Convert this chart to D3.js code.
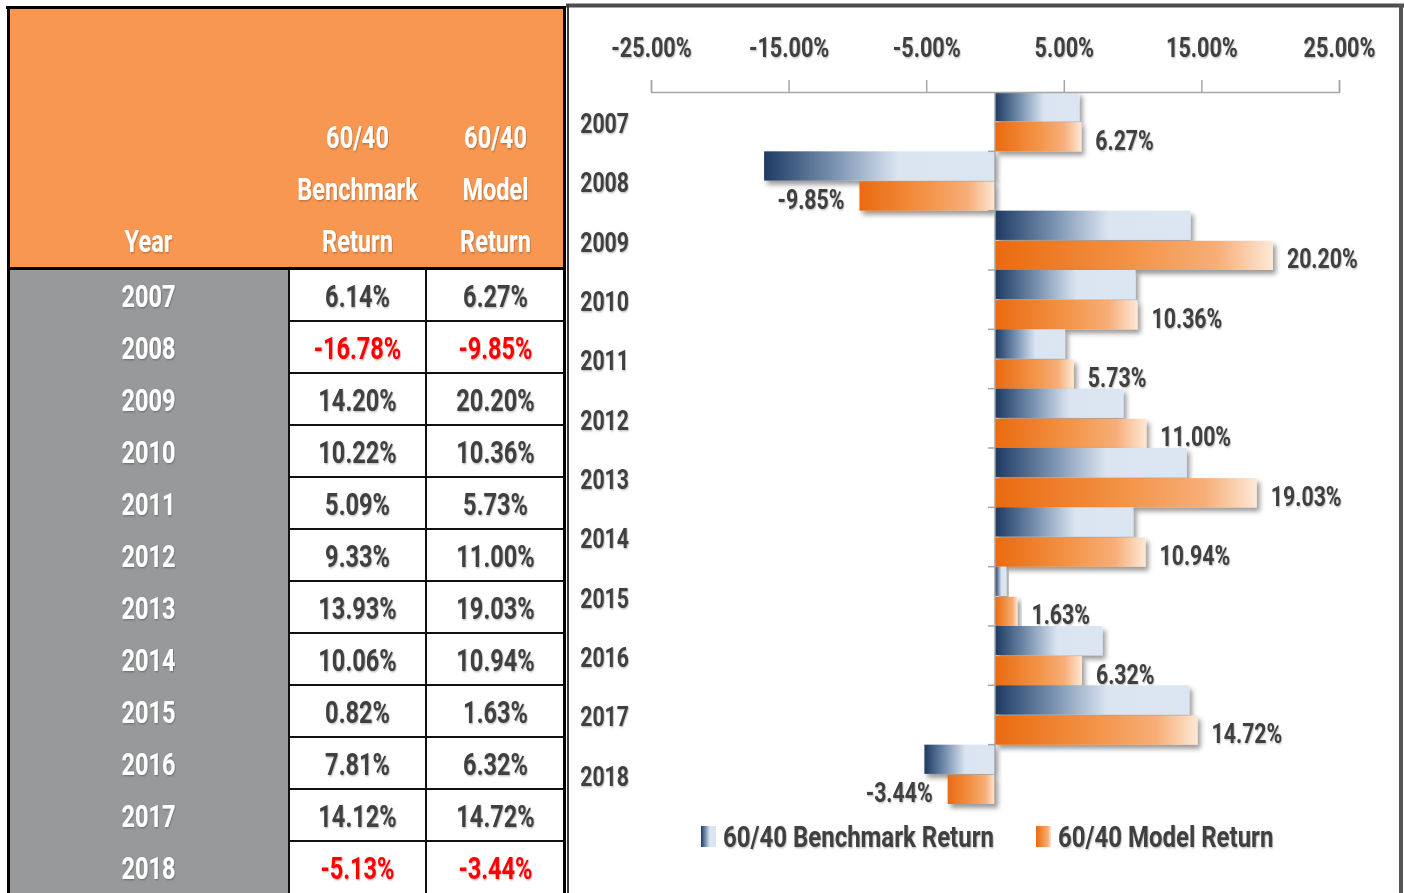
<!DOCTYPE html>
<html>
<head>
    <script src="https://cdnjs.cloudflare.com/ajax/libs/d3/7.8.5/d3.min.js"></script>
    <style>
        body { margin: 0; background: #fff; }
        svg text {
            font-family: Roboto, "Liberation Sans", sans-serif;
            font-weight: bold;
        }
    </style>
</head>
<body>
    <div id="chart"></div>
    <script>
        const years = ["2007", "2008", "2009", "2010", "2011", "2012", "2013", "2014", "2015", "2016", "2017", "2018"];
        const benchmark = [6.14, -16.78, 14.20, 10.22, 5.09, 9.33, 13.93, 10.06, 0.82, 7.81, 14.12, -5.13];
        const model = [6.27, -9.85, 20.20, 10.36, 5.73, 11.00, 19.03, 10.94, 1.63, 6.32, 14.72, -3.44];
        const xTicks = [-25, -15, -5, 5, 15, 25];
        const headerYear = ["Year"];
        const headerBench = ["60/40", "Benchmark", "Return"];
        const headerModel = ["60/40", "Model", "Return"];
        const seriesNames = ["60/40 Benchmark Return", "60/40 Model Return"];

        const width = 1404, height = 893;
        const pct = v => v.toFixed(2) + "%";
        const textColor = "#404040";

        const svg = d3.select("#chart").append("svg")
            .attr("width", width).attr("height", height);

        const defs = svg.append("defs");

        const benchGrad = defs.append("linearGradient").attr("id", "gBench");
        benchGrad.append("stop").attr("offset", "0%").attr("stop-color", "#1d3a62");
        benchGrad.append("stop").attr("offset", "30%").attr("stop-color", "#7891b0");
        benchGrad.append("stop").attr("offset", "58%").attr("stop-color", "#dbe5f1");
        benchGrad.append("stop").attr("offset", "100%").attr("stop-color", "#dce6f2");

        const modelGrad = defs.append("linearGradient").attr("id", "gModel");
        modelGrad.append("stop").attr("offset", "0%").attr("stop-color", "#ea6a10");
        modelGrad.append("stop").attr("offset", "50%").attr("stop-color", "#f39448");
        modelGrad.append("stop").attr("offset", "80%").attr("stop-color", "#f7ae78");
        modelGrad.append("stop").attr("offset", "100%").attr("stop-color", "#fde8d6");

        const barShadow = defs.append("filter").attr("id", "barShadow")
            .attr("x", "-10%").attr("y", "-20%").attr("width", "130%").attr("height", "160%");
        barShadow.append("feDropShadow").attr("dx", 3).attr("dy", 4)
            .attr("stdDeviation", 2.5).attr("flood-color", "#000").attr("flood-opacity", 0.4);

        const textShadow = defs.append("filter").attr("id", "textShadow")
            .attr("x", "-10%").attr("y", "-20%").attr("width", "130%").attr("height", "150%");
        textShadow.append("feDropShadow").attr("dx", 1).attr("dy", 1)
            .attr("stdDeviation", 0.8).attr("flood-color", "#000").attr("flood-opacity", 0.3);

        function label(g, x, y, str, size, fill, anchor, sx) {
            return g.append("text")
                .attr("transform", `translate(${x},${y}) scale(${sx || 0.76},1)`)
                .attr("font-size", size)
                .attr("fill", fill)
                .attr("text-anchor", anchor || "middle")
                .attr("filter", "url(#textShadow)")
                .text(str);
        }

        // ---------- table ----------
        const table = svg.append("g");
        const colYear = [8, 289], colBench = [289, 426], colModel = [426, 565];
        const rowY = d3.scaleBand().domain(years).range([268, 268 + 52 * years.length]);

        table.append("rect").attr("x", 8).attr("y", 8).attr("width", 557).attr("height", 260)
            .attr("fill", "#f79751");
        table.append("rect").attr("x", 8).attr("y", 268).attr("width", 281).attr("height", height - 268)
            .attr("fill", "#98999b");
        table.append("rect").attr("x", 289).attr("y", 268).attr("width", 276).attr("height", height - 268)
            .attr("fill", "#fff");

        const hdrBase = [148, 200, 252];
        headerYear.forEach(t => label(table, (colYear[0] + colYear[1]) / 2, 252, t, 31, "#fff"));
        headerBench.forEach((t, i) => label(table, (colBench[0] + colBench[1]) / 2, hdrBase[i], t, 31, "#fff"));
        headerModel.forEach((t, i) => label(table, (colModel[0] + colModel[1]) / 2, hdrBase[i], t, 31, "#fff"));

        years.forEach((yr, i) => {
            const cy = rowY(yr) + rowY.bandwidth() / 2 + 1;
            label(table, (colYear[0] + colYear[1]) / 2, cy + 12, yr, 31, "#fff");
            label(table, (colBench[0] + colBench[1]) / 2, cy + 12, pct(benchmark[i]), 31,
                benchmark[i] < 0 ? "#ff0000" : textColor);
            label(table, (colModel[0] + colModel[1]) / 2, cy + 12, pct(model[i]), 31,
                model[i] < 0 ? "#ff0000" : textColor);
        });

        // grid lines of the white cells
        table.selectAll("line.row")
            .data(years.slice(1))
            .enter().append("line")
            .attr("x1", 289).attr("x2", 565)
            .attr("y1", d => rowY(d) + 1).attr("y2", d => rowY(d) + 1)
            .attr("stroke", "#111").attr("stroke-width", 2);
        [289, 426].forEach(xv => {
            table.append("line").attr("x1", xv).attr("x2", xv).attr("y1", 268).attr("y2", height)
                .attr("stroke", "#111").attr("stroke-width", 2);
        });
        table.append("line").attr("x1", 6).attr("x2", 566).attr("y1", 7.5).attr("y2", 7.5)
            .attr("stroke", "#000").attr("stroke-width", 3);
        table.append("line").attr("x1", 8.5).attr("x2", 8.5).attr("y1", 6).attr("y2", height)
            .attr("stroke", "#000").attr("stroke-width", 3);
        table.append("line").attr("x1", 8).attr("x2", 566).attr("y1", 268.5).attr("y2", 268.5)
            .attr("stroke", "#000").attr("stroke-width", 3);
        table.append("line").attr("x1", 564.5).attr("x2", 564.5).attr("y1", 6).attr("y2", height)
            .attr("stroke", "#000").attr("stroke-width", 3);

        // ---------- chart ----------
        const chart = svg.append("g");
        chart.append("line").attr("x1", 566).attr("x2", 1404).attr("y1", 5.5).attr("y2", 5.5)
            .attr("stroke", "#4d4d4d").attr("stroke-width", 4);
        chart.append("line").attr("x1", 1401).attr("x2", 1401).attr("y1", 4).attr("y2", height)
            .attr("stroke", "#555").attr("stroke-width", 4);
        chart.append("line").attr("x1", 568).attr("x2", 568).attr("y1", 4).attr("y2", height)
            .attr("stroke", "#3a3a3a").attr("stroke-width", 2);

        const x = d3.scaleLinear().domain([-25, 25]).range([651, 1339]);
        const y = d3.scaleBand().domain(years).range([92, 804]).padding(0);
        const sub = d3.scaleBand().domain(["bench", "model"]).range([0, y.bandwidth()]).paddingInner(0.03);

        const rows = years.map((yr, i) => ({ year: yr, bench: benchmark[i], model: model[i] }));

        const barG = chart.append("g").selectAll("g")
            .data(rows)
            .enter().append("g")
            .attr("transform", d => `translate(0,${y(d.year)})`);

        barG.selectAll("rect")
            .data(d => [{ key: "bench", v: d.bench }, { key: "model", v: d.model }])
            .enter().append("rect")
            .attr("x", d => Math.min(x(0), x(d.v)))
            .attr("width", d => Math.abs(x(d.v) - x(0)))
            .attr("y", d => sub(d.key))
            .attr("height", sub.bandwidth())
            .attr("fill", d => d.key === "bench" ? "url(#gBench)" : "url(#gModel)")
            .attr("filter", "url(#barShadow)");

        // data labels on the model series
        barG.each(function (d) {
            const cy = sub("model") + sub.bandwidth() / 2 + 13;
            const g = d3.select(this);
            if (d.model >= 0) label(g, x(d.model) + 14, cy, pct(d.model), 28, textColor, "start");
            else label(g, x(d.model) - 15, cy, pct(d.model), 28, textColor, "end");
        });

        // top value axis
        const xAxis = chart.append("g")
            .attr("transform", "translate(0,92)")
            .call(d3.axisTop(x).tickValues(xTicks).tickSize(12).tickSizeOuter(12).tickPadding(23)
                .tickFormat(pct));
        xAxis.select(".domain").attr("stroke", "#a6a6a6").attr("stroke-width", 1.5);
        xAxis.selectAll(".tick line").attr("stroke", "#a6a6a6").attr("stroke-width", 1.5);
        xAxis.selectAll(".tick text")
            .attr("font-size", 27).attr("fill", textColor)
            .attr("transform", "scale(0.8,1)")
            .attr("filter", "url(#textShadow)");

        // category axis line at zero
        chart.append("line").attr("x1", x(0)).attr("x2", x(0)).attr("y1", 92).attr("y2", 804)
            .attr("stroke", "#a6a6a6").attr("stroke-width", 1.5);
        chart.selectAll("line.ytick")
            .data(years.slice(1))
            .enter().append("line")
            .attr("x1", x(0) - 7).attr("x2", x(0))
            .attr("y1", d => y(d)).attr("y2", d => y(d))
            .attr("stroke", "#a6a6a6").attr("stroke-width", 1.5);

        // year labels
        const yAxis = chart.append("g")
            .attr("transform", "translate(629,0)")
            .call(d3.axisLeft(y).tickSize(0).tickPadding(0));
        yAxis.select(".domain").remove();
        yAxis.selectAll(".tick text")
            .attr("font-size", 28).attr("fill", textColor)
            .attr("dy", "0.4em")
            .attr("transform", "scale(0.76,1)")
            .attr("filter", "url(#textShadow)");

        // legend
        const legend = chart.append("g");
        const legendX = [701, 1036];
        seriesNames.forEach((name, i) => {
            legend.append("rect").attr("x", legendX[i]).attr("y", 826).attr("width", 15).attr("height", 21)
                .attr("fill", i === 0 ? "url(#gBench)" : "url(#gModel)");
            label(legend, legendX[i] + 22, 847, name, 30, textColor, "start", 0.8);
        });
    </script>
</body>
</html>
